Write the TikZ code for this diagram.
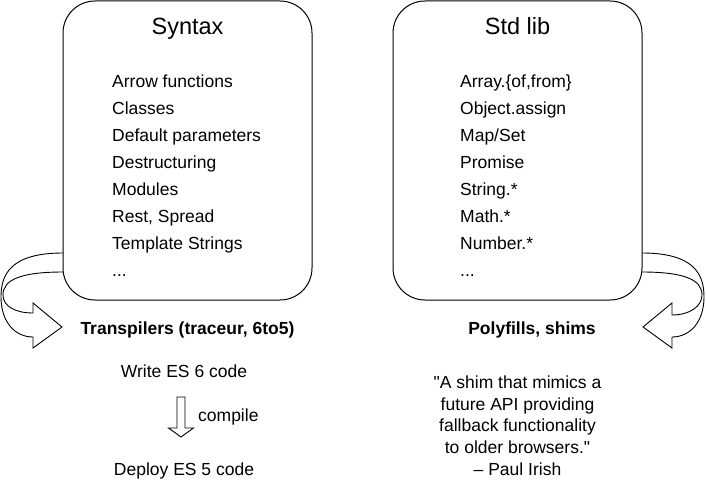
\documentclass[tikz,border=0pt]{standalone}
\usepackage{fontspec}
\setmainfont{Liberation Sans}[Ligatures=TeXOff]
\begin{document}
\begin{tikzpicture}[x=1pt,y=-1pt,
  panel/.style={draw=black,line width=1pt,rounded corners=32pt},
  titletext/.style={font=\fontsize{23.5}{28}\selectfont,inner sep=0pt,anchor=base},
  itemtext/.style={font=\fontsize{17.5}{21}\selectfont,inner sep=0pt,anchor=base west},
  plain/.style={font=\fontsize{17.5}{21}\selectfont,inner sep=0pt,anchor=base},
  boldtext/.style={font=\fontsize{17.5}{21}\selectfont\bfseries,inner sep=0pt,anchor=base},
  blockarrow/.style={draw=black,line width=0.9pt,line join=miter}]
\useasboundingbox (0,0) rectangle (706,487);
% panels
\draw[panel] (63,1) rectangle (312,300);
\draw[panel] (393,1) rectangle (642,300);
\node[titletext] (syntax) at (187.5,35) {Syntax};
\node[titletext] (stdlib) at (517.5,35) {Std lib};
% left list
\node[itemtext] (l0) at (112,87.5) {Arrow functions};
\node[itemtext] (l1) at (112,114.5) {Classes};
\node[itemtext] (l2) at (112,141.5) {Default parameters};
\node[itemtext] (l3) at (112,168.5) {Destructuring};
\node[itemtext] (l4) at (112,195.5) {Modules};
\node[itemtext] (l5) at (112,222.5) {Rest, Spread};
\node[itemtext] (l6) at (112,249.5) {Template Strings};
\node[itemtext] (l7) at (112,276.5) {...};
% right list
\node[itemtext] (r0) at (460,87.5) {Array.\{of,from\}};
\node[itemtext] (r1) at (460,114.5) {Object.assign};
\node[itemtext] (r2) at (460,141.5) {Map/Set};
\node[itemtext] (r3) at (460,168.5) {Promise};
\node[itemtext] (r4) at (460,195.5) {String.*};
\node[itemtext] (r5) at (460,222.5) {Math.*};
\node[itemtext] (r6) at (460,249.5) {Number.*};
\node[itemtext] (r7) at (460,276.5) {...};
% u-turn arrows
\draw[blockarrow] (63,253) .. controls (10,253) and (1,275) .. (1,297)
  .. controls (1,322) and (15,337) .. (33,337) -- (33,348) -- (62,327) -- (33,303) -- (33,313)
  .. controls (15,313) and (3,306) .. (3,295) .. controls (3,280) and (20,272) .. (63,272);
\draw[blockarrow] (642,253) .. controls (695,253) and (704,275) .. (704,297)
  .. controls (704,322) and (690,337) .. (672,337) -- (672,348) -- (643,327) -- (672,303) -- (672,315)
  .. controls (690,315) and (702,306) .. (702,295) .. controls (702,280) and (685,272) .. (642,272);
% labels
\node[boldtext] (trans) at (187.5,334) {Transpilers (traceur, 6to5)};
\node[boldtext] (poly) at (532,334) {Polyfills, shims};
\node[plain] (write) at (184,377) {Write ES 6 code};
\node[plain] (deploy) at (184,475) {Deploy ES 5 code};
\node[itemtext] (compile) at (198,421) {compile};
\draw[blockarrow] (177,397) -- (185,397) -- (185,428) -- (193.5,428) -- (181,437) -- (168.5,428) -- (177,428) -- cycle;
% quote
\node[plain] (q0) at (517.5,388.3) {"A shim that mimics a};
\node[plain] (q1) at (517.5,410) {future API providing};
\node[plain] (q2) at (517.5,431.7) {fallback functionality};
\node[plain] (q3) at (517.5,453.3) {to older browsers."};
\node[plain] (q4) at (517.5,475) {– Paul Irish};
\end{tikzpicture}
\end{document}
